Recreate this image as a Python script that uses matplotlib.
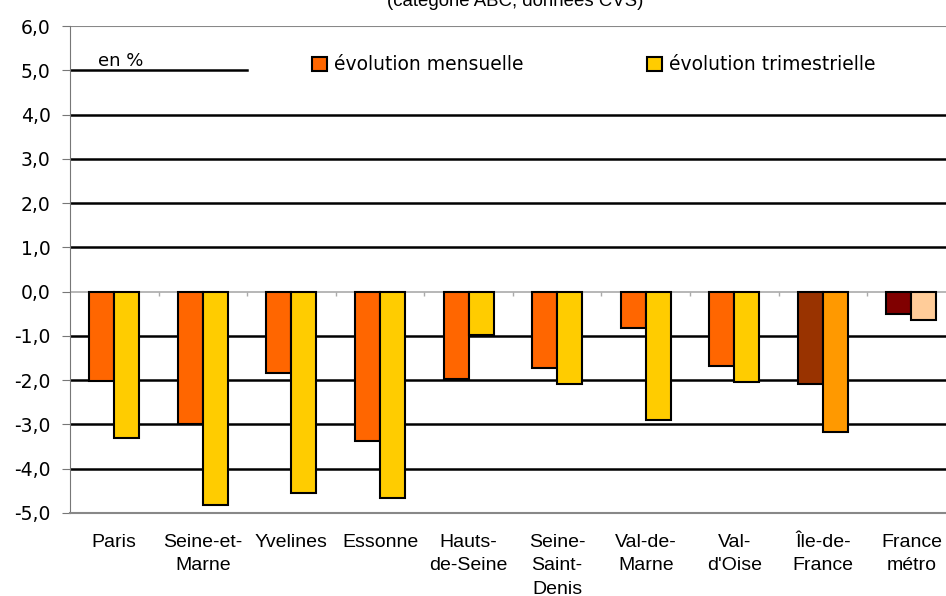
import numpy as np
import matplotlib.pyplot as plt
from matplotlib.patches import Patch

plt.close("all")

# Data
categories = ['Paris', 'Seine-et-\nMarne', 'Yvelines', 'Essonne', 'Hauts-\nde-Seine',
              'Seine-\nSaint-\nDenis', 'Val-de-\nMarne', 'Val-\nd\'Oise', 'Île-de-\nFrance', 'France\nmétro']
mensuelle = [-2.02, -3.00, -1.83, -3.38, -1.97, -1.72, -0.82, -1.67, -2.08, -0.50]
trimestrielle = [-3.30, -4.83, -4.54, -4.65, -0.98, -2.08, -2.90, -2.04, -3.17, -0.63]
yticks = [6, 5, 4, 3, 2, 1, 0, -1, -2, -3, -4, -5]
ytick_labels = ['6,0', '5,0', '4,0', '3,0', '2,0', '1,0', '0,0', '-1,0', '-2,0', '-3,0', '-4,0', '-5,0']

col_m = ['#FF6600'] * 8 + ['#993300', '#800000']
col_t = ['#FFCC00'] * 8 + ['#FF9900', '#FFCC99']

fig = plt.figure(figsize=(9.46, 5.96), dpi=100)
ax = fig.add_axes([70 / 946, 1 - 513 / 596, 1 - 70 / 946, (513 - 26) / 596])

x = np.arange(len(categories))
w = 0.282
ax.bar(x - w / 2, mensuelle, w, color=col_m, edgecolor='black', linewidth=1.5, zorder=3)
ax.bar(x + w / 2, trimestrielle, w, color=col_t, edgecolor='black', linewidth=1.5, zorder=3)

ax.set_xlim(-0.5, 9.39)
ax.set_ylim(-5, 6)

# gridlines
for v in [4, 3, 2, 1, -1, -2, -3, -4]:
    ax.axhline(v, color='black', linewidth=1.8, zorder=1)
ax.axhline(5, xmax=(247 - 70) / 876, color='black', linewidth=1.8, zorder=1)
ax.axhline(0, color='#aaaaaa', linewidth=1.2, zorder=2)
ax.axhline(6, color='#888888', linewidth=1.5, zorder=1)
# little ticks on the zero line between categories
ax.vlines(x[:-1] + 0.5, -0.1, 0, color='#aaaaaa', linewidth=1, zorder=2)

for s in ['top', 'right']:
    ax.spines[s].set_visible(False)
ax.spines['left'].set_color('#777777')
ax.spines['bottom'].set_color('#888888')
ax.spines['bottom'].set_linewidth(1.5)

ax.set_yticks(yticks)
ax.set_yticklabels(ytick_labels, fontsize=13.5)
ax.tick_params(axis='y', color='#777777', length=6, pad=8)
ax.set_xticks(x)
ax.set_xticklabels(categories, fontsize=14, family='Liberation Sans', va='top', linespacing=1.5)
ax.tick_params(axis='x', length=0, pad=15)

ax.text(-0.18, 5.1, 'en %', fontsize=13)

handles = [Patch(facecolor='#FF6600', edgecolor='black', linewidth=1.5),
           Patch(facecolor='#FFCC00', edgecolor='black', linewidth=1.5)]
fig.legend(handles, ['évolution mensuelle', 'évolution trimestrielle'], ncol=2,
           loc='center left', bbox_to_anchor=(312 / 946, 1 - 65 / 596), frameon=False,
           fontsize=13.5, handlelength=0.8, handleheight=0.8, handletextpad=0.37,
           columnspacing=6.6, borderpad=0, borderaxespad=0)

fig.text(515 / 946, 1 - 6 / 596, '(catégorie ABC, données CVS)', ha='center', va='baseline',
         fontsize=13.4, family='Liberation Sans')

plt.savefig('out.png', dpi=100)
